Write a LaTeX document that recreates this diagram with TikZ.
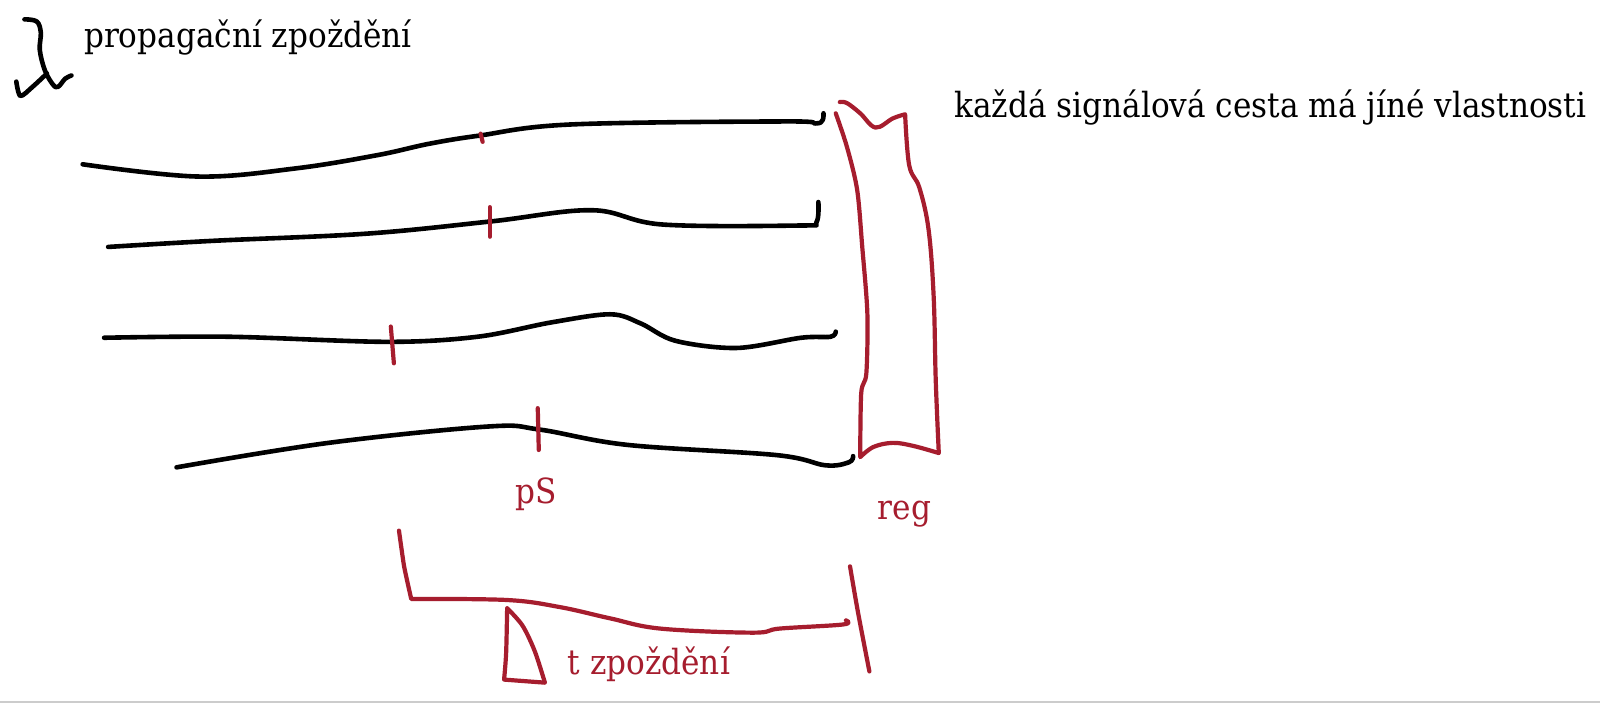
\documentclass[tikz,border=0pt]{standalone}
\usepackage{fontspec}
\setmainfont{DejaVu Serif Condensed}
\definecolor{inkred}{RGB}{166,29,46}
\begin{document}
\begin{tikzpicture}[x=0.5102pt,y=-0.5102pt,
  blackline/.style={draw=black,line width=2.3pt,line cap=round,line join=round},
  redline/.style={draw=inkred,line width=2.1pt,line cap=round,line join=round},
  blacktxt/.style={anchor=base west,inner sep=0pt,font=\fontsize{17.3}{20}\selectfont},
  redtxt/.style={anchor=base west,inner sep=0pt,text=inkred,font=\fontsize{17.3}{20}\selectfont}]
\useasboundingbox (0,0) rectangle (1568,689);
\fill[white] (0,0) rectangle (1568,689);
% bottom grey line
\draw[draw=black!20,line width=0.8pt] (0,688) -- (1568,688);
% lambda
\draw[blackline] plot[smooth,tension=0.6] coordinates {(24,19) (36,21) (40,32) (39,49) (44,69) (52,83) (57,85) (64,77) (70,74)};
\draw[blackline] plot[smooth,tension=0.5] coordinates {(46,72) (32,85) (20,94) (16,80)};
\node[blacktxt] (t1) at (82,47) {propagační zpoždění};
\node[blacktxt] (t2) at (935,115) {každá signálová cesta má jíné vlastnosti};
% signal lines
\draw[blackline] plot[smooth,tension=0.6] coordinates {(81,161) (194,173) (290,165) (370,152) (420,141) (469,133) (559,122) (770,119) (799,121) (806,118) (807,111)};
\draw[blackline] plot[smooth,tension=0.6] coordinates {(106,242) (209,236) (359,229) (481,217) (580,206) (649,220) (784,221) (800,218) (802,198)};
\draw[blackline] plot[smooth,tension=0.55] coordinates {(102,331) (224,330) (380,335) (468,330) (540,316) (598,308) (628,317) (662,334) (722,341) (785,331) (814,330) (819,325)};
\draw[blackline] plot[smooth,tension=0.6] coordinates {(173,458) (322,434) (478,418) (529,421) (615,436) (761,446) (809,456) (832,453) (836,447)};
% red ticks
\draw[redline] (471,131) -- (473,139);
\draw[redline] (480,203) -- (480,232);
\draw[redline] (383,320) -- (386,356);
\draw[redline] (527,400) -- (528,441);
% register
\draw[redline] plot[smooth,tension=0.5] coordinates {(819,111) (830,144) (840,186) (845,242) (850,307) (849,366) (844,385) (843,448)}
  -- plot[smooth,tension=0.6] coordinates {(843,448) (856,438) (875,434) (895,437) (920,444)}
  -- plot[smooth,tension=0.6] coordinates {(920,444) (917,372) (915,291) (910,225) (901,184) (891,162) (887,112)}
  -- plot[smooth,tension=0.6] coordinates {(887,112) (875,116) (858,125) (843,111) (830,101) (823,100)};
\node[redtxt] (ps) at (505,493) {pS};
\node[redtxt] (reg) at (860,509) {reg};
% delay bracket
\draw[redline] plot[smooth,tension=0.3] coordinates {(391,520) (396,555) (403,587)}
  -- plot[smooth,tension=0.6] coordinates {(403,587) (497,588) (549,595) (598,606) (647,616) (738,620) (764,616) (826,612) (829,608)};
\draw[redline] plot[smooth,tension=0.5] coordinates {(833,555) (841,601) (852,658)};
\draw[redline] plot[smooth,tension=0.5] coordinates {(497,596) (496,640) (494,666)}
  -- (534,669)
  -- plot[smooth,tension=0.5] coordinates {(534,669) (524,638) (512,613) (497,596)};
\node[redtxt] (tz) at (556,661) {t zpoždění};
\end{tikzpicture}
\end{document}
